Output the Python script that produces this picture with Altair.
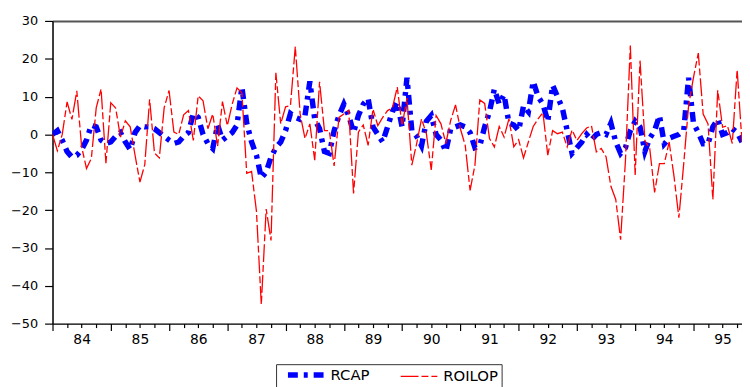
import altair as alt
import pandas as pd

series_names = ["RCAP", "ROILOP"]
start_year = 1984

rcap = [0, 1, -1.5, -4.5, -6, -5.5, -4, -1.5, 2.5, 2,
        -1.5, -2.4, -2, -0.5, 0.5, -2, -4, 0.5, 2.3, 2,
        2, 1.5, 0.5, -0.5, -1.5, -2.4, -2, -0.5, 0.5, 5.5,
        4.5, 0, -2.4, -3.7, 2.5, -1.5, -0.5, 0.5, 2.5, 12.5,
        3, -2, -5.5, -11.5, -10, -6, -3.5, -2, 1, 5.5,
        4.5, 4, 5, 14, 4, 1.5, -4.5, -5, 1, 5,
        8, 5, 0.5, 5, 8, 9.5, 2, 0, -2, 2,
        6, 8.5, 2, 15, 1, -0.5, -3, 3.5, 5, 0,
        -1.5, -4.5, 1.5, 2, 2.5, 2, 0.5, -3.5, -3, 2,
        6, 12, 8, 10.5, 3, 2.5, 1, 7.5, 6, 14,
        10, 8, 3.5, 13, 10, 7, 1, -5, -3.5, -2,
        0, -1.5, 0, 0.5, 0, 3, -2, -5, -3.5, 1,
        3.5, 2, -4.5, -1, 1, 5, -2.5, -1, -0.5, 0,
        1, 15, 3, 0.5, -2.5, -2.5, 2, 4, 0, 0.5,
        1.5, 0.5, -2]

roilop = [0, -4.3, 0, 8.6, 4, 11.5, -3.3, -9, -6.3, 7,
          12, -7.6, 8.4, 7, -0.7, 3.6, 2, -5.5, -12.6, -8,
          9.3, -4.9, -6.2, 7.1, 11.6, 0.6, 0, 5.2, 6.3, -1.6,
          10.2, 8.9, 1.5, 5.4, -3.1, 8.7, 2.3, 8, 12.3, 11,
          -10.3, -9.8, -20.3, -45, -19.7, -28, 16.3, 2.8, 7.3, 7.6,
          23.2, 5.4, -1.1, 2.8, -6.8, 13.9, 1, 1, -8.3, 4.5,
          5.4, 6.4, -15.6, 0.6, 2.5, -2.9, 6.7, 2.3, 4.5, 6.3,
          7, 12.5, 2.3, 9.6, -8.1, -2.4, 4.1, 0.2, -9.4, 5,
          2.8, -2.4, 3.7, 7.8, 1.5, -2.9, -14.8, -8.1, 9.1, 8.2,
          -1.1, -3.3, 2.1, -0.7, 4.1, -3.3, -1.4, -6.2, -2, 2.1,
          4.1, 5.8, -5.5, 1, 0.2, 0.6, -3.3, 1.2, -1.6, 0.2,
          1.7, 2.3, -4.6, -3.7, -5.9, -13.7, -17.2, -27.8, -6.8, 23.5,
          -10.7, 19.5, -1.6, -3.7, -15.3, -7.7, -7.7, -2, -11.1, -22,
          -7.7, 7.6, 15, 21.5, 5.4, 2.8, -17.2, 11.7, 1.9, 2.3,
          -2.4, 17.1, -2]

y_ticks = [-50, -40, -30, -20, -10, 0, 10, 20, 30]

n = len(rcap)
t = [start_year + i / 12 for i in range(n)]
df = pd.DataFrame({
    "t": t + t,
    "value": rcap + roilop,
    "series": [series_names[0]] * n + [series_names[1]] * len(roilop),
})

x_end = start_year + (n - 1) / 12
quarters = [start_year + q / 4 for q in range(int((x_end - start_year) * 4) + 1)]

leg = alt.Legend(
    title=None, orient="none", legendX=226, legendY=347,
    direction="horizontal", columns=2,
    symbolType="M0.2,0H7.6", symbolSize=100,
    labelFont="DejaVu Sans", labelFontSize=15, labelColor="black",
    labelOffset=36, columnPadding=22, padding=3,
    strokeColor="#333333", fillColor="white",
)

x_axis = alt.Axis(
    values=quarters, title=None, grid=False,
    tickSize={"condition": {"test": "datum.value % 1 === 0", "value": 7}, "value": 4},
    labelExpr="(datum.value % 1 === 0.5) ? slice(toString(floor(datum.value)), 2) : ''",
    labelFont="DejaVu Sans", labelFontSize=14, labelColor="black",
    labelPadding=5, labelOverlap=False, labelFlush=False, labelBound=False,
    domainColor="black", domainWidth=1.5, tickColor="black", tickWidth=1.2,
)

y_axis = alt.Axis(
    values=y_ticks, title=None, tickSize=8, labelPadding=7,
    labelFont="DejaVu Sans", labelFontSize=13, labelColor="black",
    grid=True, gridColor="#555555", gridWidth=2,
    gridOpacity={"condition": {"test": "datum.value === 30", "value": 1}, "value": 0},
    domainColor="black", domainWidth=1.5, tickColor="black", tickWidth=1.2,
    labelOverlap=False,
)

chart = alt.Chart(df).mark_line(clip=True, strokeCap="butt").encode(
    x=alt.X("t:Q", scale=alt.Scale(domain=[start_year, x_end], nice=False, zero=False), axis=x_axis),
    y=alt.Y("value:Q", scale=alt.Scale(domain=[-50, 30], nice=False), axis=y_axis),
    color=alt.Color("series:N", scale=alt.Scale(domain=series_names, range=["#0000FF", "#FF0000"]), legend=leg),
    strokeDash=alt.StrokeDash("series:N", scale=alt.Scale(domain=series_names, range=[[10, 6, 4, 6], [18, 3, 7, 3]]), legend=leg),
    strokeWidth=alt.StrokeWidth("series:N", scale=alt.Scale(domain=series_names, range=[5.5, 1.3]), legend=leg),
    order=alt.Order("series:N", sort="descending"),
).properties(
    width=697, height=306,
    autosize=alt.AutoSizeParams(type="none"),
    padding={"left": 45, "top": 11, "right": 0, "bottom": 62},
).configure_view(stroke=None).configure(background="white")

chart.save("out.html", embed_options={"renderer": "svg", "actions": False})
